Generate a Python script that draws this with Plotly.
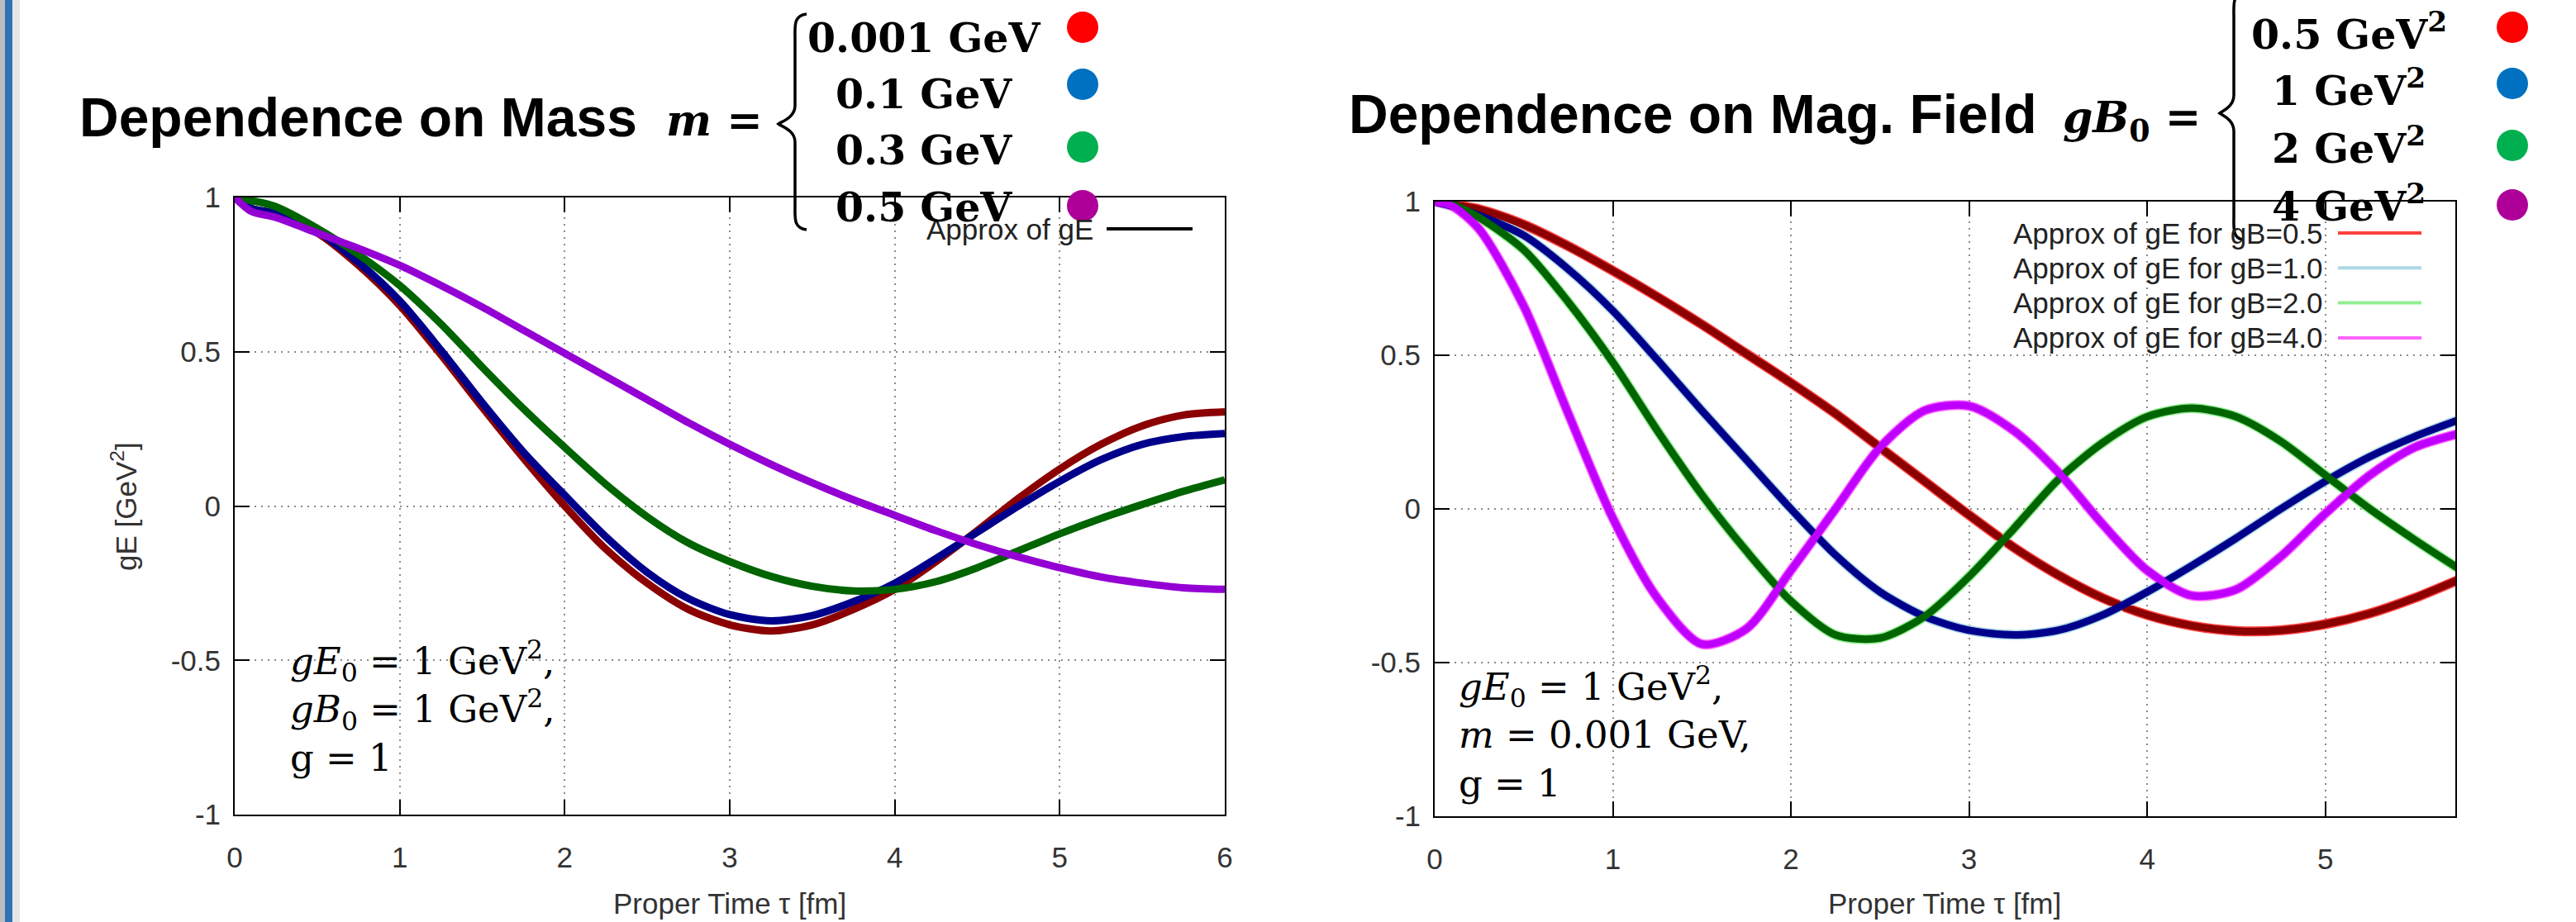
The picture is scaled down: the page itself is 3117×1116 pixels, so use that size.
import plotly.graph_objects as go

W, H = 3117, 1116

# ---------------- data ----------------
tau_left = [0, 0.1, 0.25, 0.5, 0.75, 1.0, 1.25, 1.5, 1.75, 2.0, 2.25, 2.5, 2.75, 3.0,
            3.25, 3.5, 3.75, 4.0, 4.25, 4.5, 4.75, 5.0, 5.25, 5.5, 5.75, 6.0]
ge_m0001 = [1.0, 0.965, 0.945, 0.885, 0.78, 0.65, 0.49, 0.32, 0.155, 0.0, -0.14, -0.25, -0.335, -0.385,
            -0.405, -0.385, -0.335, -0.27, -0.18, -0.08, 0.025, 0.12, 0.2, 0.26, 0.295, 0.305]
ge_m01 = [1.0, 0.965, 0.948, 0.89, 0.79, 0.665, 0.505, 0.335, 0.175, 0.035, -0.1, -0.215, -0.3, -0.352,
          -0.372, -0.355, -0.31, -0.25, -0.17, -0.085, 0.0, 0.08, 0.15, 0.2, 0.225, 0.235]
ge_m03 = [1.0, 0.99, 0.97, 0.9, 0.815, 0.715, 0.59, 0.45, 0.315, 0.19, 0.07, -0.035, -0.12, -0.18,
          -0.228, -0.26, -0.275, -0.27, -0.245, -0.2, -0.145, -0.09, -0.04, 0.005, 0.048, 0.085]
ge_m05 = [1.0, 0.955, 0.935, 0.885, 0.835, 0.78, 0.715, 0.645, 0.57, 0.495, 0.42, 0.345, 0.27, 0.2,
          0.135, 0.075, 0.02, -0.03, -0.08, -0.125, -0.165, -0.2, -0.23, -0.25, -0.265, -0.27]

tau_right = [0, 0.1, 0.25, 0.5, 0.75, 1.0, 1.25, 1.5, 1.75, 2.0, 2.25, 2.5, 2.75, 3.0,
             3.25, 3.5, 3.75, 4.0, 4.25, 4.5, 4.75, 5.0, 5.25, 5.5, 5.75]
ge_b05 = [1.0, 0.99, 0.975, 0.925, 0.855, 0.775, 0.69, 0.6, 0.505, 0.41, 0.31, 0.2, 0.09, -0.02,
          -0.125, -0.215, -0.29, -0.345, -0.38, -0.397, -0.395, -0.375, -0.34, -0.29, -0.23]
ge_b1 = [1.0, 0.985, 0.955, 0.89, 0.78, 0.645, 0.485, 0.32, 0.16, 0.0, -0.15, -0.27, -0.35, -0.395,
         -0.41, -0.395, -0.345, -0.27, -0.185, -0.095, 0.0, 0.09, 0.17, 0.235, 0.29]
ge_b2 = [1.0, 0.99, 0.948, 0.843, 0.673, 0.477, 0.255, 0.046, -0.137, -0.3, -0.41, -0.42, -0.35, -0.22,
         -0.065, 0.095, 0.215, 0.3, 0.328, 0.3, 0.22, 0.11, 0.0, -0.1, -0.195]
ge_b4 = [1.0, 0.985, 0.91, 0.66, 0.31, -0.03, -0.29, -0.44, -0.39, -0.2, 0.0, 0.2, 0.32, 0.335,
         0.255, 0.12, -0.05, -0.2, -0.282, -0.262, -0.155, -0.015, 0.11, 0.2, 0.245]

mass_series = [ge_m0001, ge_m01, ge_m03, ge_m05]
field_series = [ge_b05, ge_b1, ge_b2, ge_b4]
mass_values = ["0.001 GeV", "0.1 GeV", "0.3 GeV", "0.5 GeV"]
field_values = ["0.5 GeV<sup>2</sup>", "1 GeV<sup>2</sup>", "2 GeV<sup>2</sup>", "4 GeV<sup>2</sup>"]
approx_mass_name = "Approx of gE"
approx_field_names = ["Approx of gE for gB=0.5", "Approx of gE for gB=1.0",
                      "Approx of gE for gB=2.0", "Approx of gE for gB=4.0"]
y_tick_vals = [-1, -0.5, 0, 0.5, 1]
y_tick_text = ["-1", "-0.5", "0", "0.5", "1"]
x_ticks_left = [0, 1, 2, 3, 4, 5, 6]
x_ticks_right = [0, 1, 2, 3, 4, 5]

# ---------------- styles ----------------
main_left_colors = ["#8B0000", "#00008B", "#006400", "#9400D3"]
main_right_colors = ["#8B0000", "#00008B", "#006400", "#BF00FF"]
approx_right_colors = ["#FF4040", "#ADD8E6", "#90EE90", "#FF66FF"]
dot_colors = ["#FF0000", "#0070C0", "#00B050", "#AE0099"]


def X(px):
    return px / W


def Y(py):
    return 1 - py / H


fig = go.Figure()

# left panel
for s in mass_series:
    fig.add_trace(go.Scatter(x=tau_left, y=s, mode="lines", xaxis="x", yaxis="y",
                             line=dict(color="black", width=2, shape="spline", smoothing=0.8),
                             showlegend=False, hoverinfo="skip"))
for s, c in zip(mass_series, main_left_colors):
    fig.add_trace(go.Scatter(x=tau_left, y=s, mode="lines", xaxis="x", yaxis="y",
                             line=dict(color=c, width=9, shape="spline", smoothing=0.8),
                             showlegend=False))
# right panel
for s, c in zip(field_series, approx_right_colors):
    fig.add_trace(go.Scatter(x=tau_right, y=s, mode="lines", xaxis="x2", yaxis="y2",
                             line=dict(color=c, width=12, shape="spline", smoothing=0.8),
                             showlegend=False, hoverinfo="skip"))
for s, c in zip(field_series, main_right_colors):
    fig.add_trace(go.Scatter(x=tau_right, y=s, mode="lines", xaxis="x2", yaxis="y2",
                             line=dict(color=c, width=9, shape="spline", smoothing=0.8),
                             showlegend=False))

tickfont = dict(family="Liberation Sans", size=35, color="#333333")
common = dict(showline=True, linecolor="black", linewidth=2, mirror="ticks", ticks="inside",
              ticklen=18, tickwidth=2, tickcolor="black", showgrid=True, gridcolor="#8a8a8a",
              griddash="2px,6px", gridwidth=1.5, zeroline=False, tickfont=tickfont, automargin=False)

fig.update_layout(
    width=W, height=H, margin=dict(l=0, r=0, t=0, b=0, pad=0, autoexpand=False),
    paper_bgcolor="white", plot_bgcolor="white", showlegend=False,
    xaxis=dict(domain=[X(284), X(1482)], range=[0, 6], tickvals=x_ticks_left,
               ticktext=[str(v) for v in x_ticks_left], ticklabelstandoff=20, anchor="y", **common),
    yaxis=dict(domain=[Y(986), Y(239)], range=[-1, 1], tickvals=y_tick_vals,
               ticktext=y_tick_text, ticklabelstandoff=8, anchor="x", **common),
    xaxis2=dict(domain=[X(1736), X(2971)], range=[0, 5.73], tickvals=x_ticks_right,
                ticktext=[str(v) for v in x_ticks_right], ticklabelstandoff=20, anchor="y2", **common),
    yaxis2=dict(domain=[Y(988), Y(244)], range=[-1, 1], tickvals=y_tick_vals,
                ticktext=y_tick_text, ticklabelstandoff=8, anchor="x2", **common),
)

ann = []
shapes = []

# window edge decoration on the far left
shapes.append(dict(type="rect", xref="paper", yref="paper", x0=X(0), x1=X(6), y0=0, y1=1,
                   fillcolor="#bdbdbd", line=dict(width=0), layer="below"))
shapes.append(dict(type="rect", xref="paper", yref="paper", x0=X(6), x1=X(15), y0=0, y1=1,
                   fillcolor="#2E74B5", line=dict(width=0), layer="below"))
shapes.append(dict(type="rect", xref="paper", yref="paper", x0=X(15), x1=X(24), y0=0, y1=1,
                   fillcolor="#e6e6e6", line=dict(width=0), layer="below"))

# axis titles
axfont = dict(family="Liberation Sans", size=35, color="#333333")
ann.append(dict(text="gE [GeV<sup>2</sup>]", x=X(150), y=Y(613), xref="paper", yref="paper",
                showarrow=False, textangle=-90, font=axfont, xanchor="center", yanchor="middle"))
for cx in (883, 2353):
    ann.append(dict(text="Proper Time τ [fm]", x=X(cx), y=Y(1093), xref="paper", yref="paper",
                    showarrow=False, font=axfont, xanchor="center", yanchor="middle"))

# in-plot legends (gnuplot style: text then sample line)
legfont = dict(family="Liberation Sans", size=35, color="#222222")
ann.append(dict(text=approx_mass_name, x=X(1325), y=Y(277), xref="paper", yref="paper",
                showarrow=False, font=legfont, xanchor="right", yanchor="middle"))
shapes.append(dict(type="line", xref="paper", yref="paper", x0=X(1339), x1=X(1443),
                   y0=Y(277), y1=Y(277), line=dict(color="black", width=4)))
for i, (name, c) in enumerate(zip(approx_field_names, approx_right_colors)):
    yy = 282 + 42.3 * i
    ann.append(dict(text=name, x=X(2813), y=Y(yy), xref="paper", yref="paper",
                    showarrow=False, font=legfont, xanchor="right", yanchor="middle"))
    shapes.append(dict(type="line", xref="paper", yref="paper", x0=X(2829), x1=X(2930),
                       y0=Y(yy), y1=Y(yy), line=dict(color=c, width=4)))

# parameter boxes
mathfont = dict(family="DejaVu Serif", size=45, color="black")
ann.append(dict(text="<i>gE</i><sub>0</sub> = 1 GeV<sup>2</sup>,<br><i>gB</i><sub>0</sub> = 1 GeV<sup>2</sup>,<br>g = 1",
                x=X(349), y=Y(766), xref="paper", yref="paper", showarrow=False, align="left",
                font=mathfont, xanchor="left", yanchor="top"))
ann.append(dict(text="<i>gE</i><sub>0</sub> = 1 GeV<sup>2</sup>,<br><i>m</i> = 0.001 GeV,<br>g = 1",
                x=X(1763), y=Y(797), xref="paper", yref="paper", showarrow=False, align="left",
                font=mathfont, xanchor="left", yanchor="top"))

# headings
headfont = dict(family="Liberation Sans", size=66, color="black")
ann.append(dict(text="<b>Dependence on Mass</b>", x=X(94), y=Y(142), xref="paper", yref="paper",
                showarrow=False, font=headfont, xanchor="left", yanchor="middle"))
ann.append(dict(text="<b>Dependence on Mag. Field</b>", x=X(1630), y=Y(138), xref="paper", yref="paper",
                showarrow=False, font=headfont, xanchor="left", yanchor="middle"))
symfont = dict(family="DejaVu Serif", size=52, color="black")
ann.append(dict(text="<b><i>m</i> =</b>", x=X(804), y=Y(145), xref="paper", yref="paper",
                showarrow=False, font=symfont, xanchor="left", yanchor="middle"))
ann.append(dict(text="<b><i>gB</i><sub>0</sub> =</b>", x=X(2494), y=Y(145), xref="paper", yref="paper",
                showarrow=False, font=symfont, xanchor="left", yanchor="middle"))

valfont = dict(family="DejaVu Serif", size=49, color="black")
left_rows = [46, 114, 182, 251]
left_dots = [33, 102, 178, 249]
right_rows = [38, 107, 177, 247]
right_dots = [33, 101, 176, 248]
for txt, ry, dy, c in zip(mass_values, left_rows, left_dots, dot_colors):
    ann.append(dict(text="<b>" + txt + "</b>", x=X(1118), y=Y(ry), xref="paper", yref="paper",
                    showarrow=False, font=valfont, xanchor="center", yanchor="middle"))
    shapes.append(dict(type="circle", xref="paper", yref="paper", x0=X(1291), x1=X(1329),
                       y0=Y(dy + 19), y1=Y(dy - 19), fillcolor=c, line=dict(width=0)))
for txt, ry, dy, c in zip(field_values, right_rows, right_dots, dot_colors):
    ann.append(dict(text="<b>" + txt + "</b>", x=X(2842), y=Y(ry), xref="paper", yref="paper",
                    showarrow=False, font=valfont, xanchor="center", yanchor="middle"))
    shapes.append(dict(type="circle", xref="paper", yref="paper", x0=X(3021), x1=X(3059),
                       y0=Y(dy + 19), y1=Y(dy - 19), fillcolor=c, line=dict(width=0)))


def brace(xtip, xend, ytop, ymid, ybot):
    xm = (xtip + xend) / 2 + 3
    pts = [
        f"M {X(xend)},{Y(ytop)}",
        f"C {X(xm - 2)},{Y(ytop + 2)} {X(xm)},{Y(ytop + 14)} {X(xm)},{Y(ytop + 30)}",
        f"L {X(xm)},{Y(ymid - 22)}",
        f"C {X(xm)},{Y(ymid - 8)} {X(xtip + 4)},{Y(ymid - 3)} {X(xtip)},{Y(ymid)}",
        f"C {X(xtip + 4)},{Y(ymid + 3)} {X(xm)},{Y(ymid + 8)} {X(xm)},{Y(ymid + 22)}",
        f"L {X(xm)},{Y(ybot - 30)}",
        f"C {X(xm)},{Y(ybot - 14)} {X(xm - 2)},{Y(ybot - 2)} {X(xend)},{Y(ybot)}",
    ]
    return dict(type="path", xref="paper", yref="paper", path=" ".join(pts),
                line=dict(color="black", width=3.5))


shapes.append(brace(942, 976, 17, 150, 278))
shapes.append(brace(2686, 2714, -8, 137, 290))

fig.update_layout(annotations=ann, shapes=shapes)
fig.write_html("out.html", config={"displayModeBar": False},
               post_script="document.body.style.margin='0';document.body.style.overflow='hidden';")
